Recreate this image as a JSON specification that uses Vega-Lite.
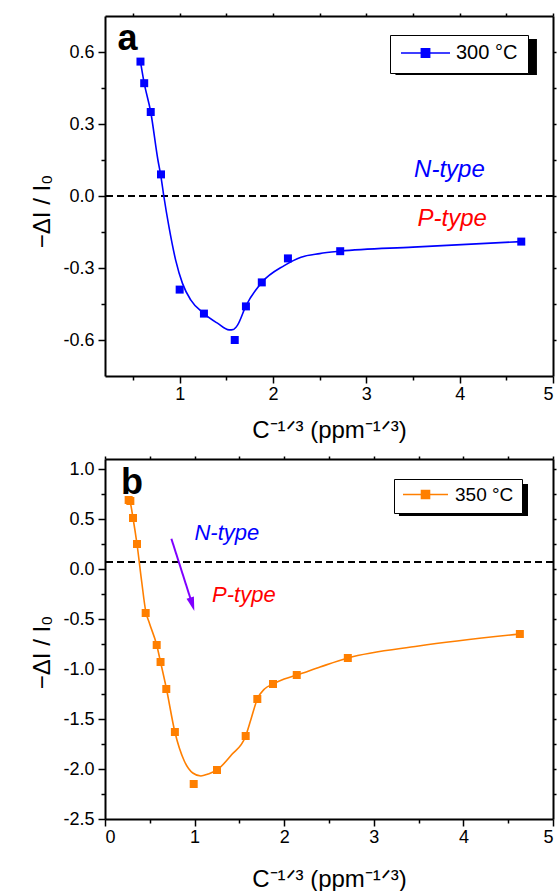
{
  "$schema": "https://vega.github.io/schema/vega-lite/v6.json",
  "padding": {"left": 30, "top": 12, "right": 4, "bottom": 0},
  "datasets": {
    "ptsA": [
      {"x": 0.58, "y": 0.56, "series": "300 °C"},
      {"x": 0.62, "y": 0.47, "series": "300 °C"},
      {"x": 0.69, "y": 0.35, "series": "300 °C"},
      {"x": 0.80, "y": 0.09, "series": "300 °C"},
      {"x": 1.00, "y": -0.39, "series": "300 °C"},
      {"x": 1.26, "y": -0.49, "series": "300 °C"},
      {"x": 1.59, "y": -0.60, "series": "300 °C"},
      {"x": 1.71, "y": -0.46, "series": "300 °C"},
      {"x": 1.88, "y": -0.36, "series": "300 °C"},
      {"x": 2.16, "y": -0.26, "series": "300 °C"},
      {"x": 2.72, "y": -0.23, "series": "300 °C"},
      {"x": 4.66, "y": -0.19, "series": "300 °C"}
    ],
    "fitA": [
      {"x": 0.58, "y": 0.56, "series": "300 °C"},
      {"x": 0.62, "y": 0.47, "series": "300 °C"},
      {"x": 0.69, "y": 0.35, "series": "300 °C"},
      {"x": 0.767, "y": 0.15, "series": "300 °C"},
      {"x": 0.80, "y": 0.08, "series": "300 °C"},
      {"x": 0.83, "y": 0.0, "series": "300 °C"},
      {"x": 0.885, "y": -0.128, "series": "300 °C"},
      {"x": 0.957, "y": -0.267, "series": "300 °C"},
      {"x": 1.03, "y": -0.364, "series": "300 °C"},
      {"x": 1.118, "y": -0.433, "series": "300 °C"},
      {"x": 1.26, "y": -0.49, "series": "300 °C"},
      {"x": 1.405, "y": -0.53, "series": "300 °C"},
      {"x": 1.53, "y": -0.558, "series": "300 °C"},
      {"x": 1.575, "y": -0.556, "series": "300 °C"},
      {"x": 1.62, "y": -0.538, "series": "300 °C"},
      {"x": 1.71, "y": -0.458, "series": "300 °C"},
      {"x": 1.88, "y": -0.36, "series": "300 °C"},
      {"x": 2.12, "y": -0.29, "series": "300 °C"},
      {"x": 2.30, "y": -0.255, "series": "300 °C"},
      {"x": 2.5, "y": -0.24, "series": "300 °C"},
      {"x": 2.72, "y": -0.23, "series": "300 °C"},
      {"x": 3.5, "y": -0.213, "series": "300 °C"},
      {"x": 4.66, "y": -0.19, "series": "300 °C"}
    ],
    "ptsB": [
      {"x": 0.264, "y": 0.69, "series": "350 °C"},
      {"x": 0.283, "y": 0.68, "series": "350 °C"},
      {"x": 0.3125, "y": 0.51, "series": "350 °C"},
      {"x": 0.357, "y": 0.25, "series": "350 °C"},
      {"x": 0.454, "y": -0.44, "series": "350 °C"},
      {"x": 0.577, "y": -0.76, "series": "350 °C"},
      {"x": 0.62, "y": -0.93, "series": "350 °C"},
      {"x": 0.684, "y": -1.20, "series": "350 °C"},
      {"x": 0.78, "y": -1.63, "series": "350 °C"},
      {"x": 0.99, "y": -2.15, "series": "350 °C"},
      {"x": 1.25, "y": -2.01, "series": "350 °C"},
      {"x": 1.57, "y": -1.67, "series": "350 °C"},
      {"x": 1.70, "y": -1.30, "series": "350 °C"},
      {"x": 1.875, "y": -1.15, "series": "350 °C"},
      {"x": 2.14, "y": -1.06, "series": "350 °C"},
      {"x": 2.71, "y": -0.89, "series": "350 °C"},
      {"x": 4.63, "y": -0.65, "series": "350 °C"}
    ],
    "fitB": [
      {"x": 0.264, "y": 0.69, "series": "350 °C"},
      {"x": 0.283, "y": 0.66, "series": "350 °C"},
      {"x": 0.3125, "y": 0.51, "series": "350 °C"},
      {"x": 0.357, "y": 0.25, "series": "350 °C"},
      {"x": 0.41, "y": -0.13, "series": "350 °C"},
      {"x": 0.454, "y": -0.42, "series": "350 °C"},
      {"x": 0.495, "y": -0.54, "series": "350 °C"},
      {"x": 0.577, "y": -0.76, "series": "350 °C"},
      {"x": 0.62, "y": -0.93, "series": "350 °C"},
      {"x": 0.684, "y": -1.19, "series": "350 °C"},
      {"x": 0.78, "y": -1.63, "series": "350 °C"},
      {"x": 0.885, "y": -1.92, "series": "350 °C"},
      {"x": 0.98, "y": -2.04, "series": "350 °C"},
      {"x": 1.07, "y": -2.07, "series": "350 °C"},
      {"x": 1.15, "y": -2.05, "series": "350 °C"},
      {"x": 1.25, "y": -2.01, "series": "350 °C"},
      {"x": 1.41, "y": -1.86, "series": "350 °C"},
      {"x": 1.57, "y": -1.67, "series": "350 °C"},
      {"x": 1.63, "y": -1.50, "series": "350 °C"},
      {"x": 1.70, "y": -1.30, "series": "350 °C"},
      {"x": 1.78, "y": -1.20, "series": "350 °C"},
      {"x": 1.875, "y": -1.15, "series": "350 °C"},
      {"x": 2.0, "y": -1.10, "series": "350 °C"},
      {"x": 2.14, "y": -1.06, "series": "350 °C"},
      {"x": 2.4, "y": -0.98, "series": "350 °C"},
      {"x": 2.71, "y": -0.89, "series": "350 °C"},
      {"x": 3.5, "y": -0.77, "series": "350 °C"},
      {"x": 4.63, "y": -0.65, "series": "350 °C"}
    ]
  },
  "config": {
    "font": "Liberation Sans",
    "view": {"stroke": null},
    "axis": {
      "domainColor": "black", "domainWidth": 2, "tickColor": "black", "tickWidth": 1.5,
      "labelFont": "Liberation Sans", "labelFontSize": 18, "labelColor": "black",
      "titleFont": "Liberation Sans", "titleFontSize": 24, "titleFontWeight": "normal", "titleColor": "black",
      "grid": false
    }
  },
  "vconcat": [
    {
      "width": 448, "height": 360,
      "resolve": {"axis": {"x": "independent", "y": "independent"}},
      "layer": [
        {
          "data": {"values": [{}]},
          "mark": {"type": "rect", "color": "black"},
          "encoding": {
            "x": {"datum": 3.312, "type": "quantitative", "scale": {"domain": [0.2, 5], "nice": false, "zero": false}, "axis": null},
            "x2": {"datum": 4.828},
            "y": {"datum": 0.654, "type": "quantitative", "scale": {"domain": [-0.75, 0.75], "nice": false, "zero": false}, "axis": null},
            "y2": {"datum": 0.504}
          }
        },
        {
          "data": {"values": [{}]},
          "mark": {"type": "rule", "color": "black", "strokeDash": [7, 4], "strokeWidth": 2},
          "encoding": {
            "y": {"datum": 0, "type": "quantitative", "scale": {"domain": [-0.75, 0.75], "nice": false, "zero": false}, "axis": null}
          }
        },
        {
          "data": {"name": "fitA"},
          "mark": {"type": "line", "interpolate": "monotone", "strokeWidth": 1.6},
          "encoding": {
            "x": {"field": "x", "type": "quantitative", "scale": {"domain": [0.2, 5], "nice": false, "zero": false},
              "axis": {"orient": "bottom", "title": "C⁻¹ᐟ³ (ppm⁻¹ᐟ³)", "values": [0.5, 1, 1.5, 2, 2.5, 3, 3.5, 4, 4.5, 5],
                "labelExpr": "datum.value % 1 == 0 ? format(datum.value, 'd') : ''",
                "tickSize": {"condition": {"test": "datum.value % 1 == 0", "value": 7}, "value": 4},
                "labelPadding": 2, "titlePadding": 15}},
            "y": {"field": "y", "type": "quantitative", "scale": {"domain": [-0.75, 0.75], "nice": false, "zero": false},
              "axis": {"orient": "left", "title": "−ΔI / I₀", "values": [-0.6, -0.45, -0.3, -0.15, 0, 0.15, 0.3, 0.45, 0.6],
                "labelExpr": "abs(datum.value/0.3 - round(datum.value/0.3)) < 0.001 ? replace(format(datum.value, '.1f'), '−', '-') : ''",
                "tickSize": {"condition": {"test": "abs(datum.value/0.3 - round(datum.value/0.3)) < 0.001", "value": 7}, "value": 4},
                "labelPadding": 4, "titlePadding": 8, "titleY": 195}},
            "color": {"field": "series", "type": "nominal", "scale": {"domain": ["300 °C"], "range": ["#0000ff"]},
              "legend": {"title": null, "orient": "none", "legendX": 285, "legendY": 19, "strokeColor": "black", "fillColor": "white",
                "padding": 10, "clipHeight": 16, "symbolSize": 2401, "symbolType": "M-1,0H-0.17M0.17,0H1M-0.17,-0.17H0.17V0.17H-0.17Z",
                "symbolFillColor": "#0000ff", "symbolStrokeColor": "#0000ff", "symbolStrokeWidth": 1.5, "symbolOpacity": 1,
                "labelFontSize": 20, "labelOffset": 5, "labelColor": "black", "labelFont": "Liberation Sans"}}
          }
        },
        {
          "data": {"name": "ptsA"},
          "mark": {"type": "point", "shape": "square", "filled": true, "size": 64, "opacity": 1},
          "encoding": {
            "x": {"field": "x", "type": "quantitative", "scale": {"domain": [0.2, 5], "nice": false, "zero": false},
              "axis": {"orient": "top", "title": null, "labels": false, "tickSize": 3, "values": [0.5, 1, 1.5, 2, 2.5, 3, 3.5, 4, 4.5, 5]}},
            "y": {"field": "y", "type": "quantitative", "scale": {"domain": [-0.75, 0.75], "nice": false, "zero": false},
              "axis": {"orient": "right", "title": null, "labels": false, "tickSize": 3, "values": [-0.6, -0.45, -0.3, -0.15, 0, 0.15, 0.3, 0.45, 0.6]}},
            "color": {"field": "series", "type": "nominal", "scale": {"domain": ["300 °C"], "range": ["#0000ff"]}}
          }
        },
        {
          "data": {"values": [{}]},
          "mark": {"type": "text", "text": "a", "fontSize": 36, "fontWeight": "bold", "color": "black", "baseline": "middle", "align": "center"},
          "encoding": {"x": {"datum": 0.44, "type": "quantitative", "axis": null}, "y": {"datum": 0.655, "type": "quantitative", "axis": null}}
        },
        {
          "data": {"values": [{}]},
          "mark": {"type": "text", "text": "N-type", "fontSize": 24, "fontStyle": "italic", "color": "#0000ff", "baseline": "middle", "align": "center"},
          "encoding": {"x": {"datum": 3.89, "type": "quantitative", "axis": null}, "y": {"datum": 0.11, "type": "quantitative", "axis": null}}
        },
        {
          "data": {"values": [{}]},
          "mark": {"type": "text", "text": "P-type", "fontSize": 24, "fontStyle": "italic", "color": "#ff0000", "baseline": "middle", "align": "center"},
          "encoding": {"x": {"datum": 3.92, "type": "quantitative", "axis": null}, "y": {"datum": -0.095, "type": "quantitative", "axis": null}}
        }
      ]
    },
    {
      "width": 448, "height": 360,
      "resolve": {"axis": {"x": "independent", "y": "independent"}},
      "layer": [
        {
          "data": {"values": [{}]},
          "mark": {"type": "rect", "color": "black"},
          "encoding": {
            "x": {"datum": 3.281, "type": "quantitative", "scale": {"domain": [0, 5], "nice": false, "zero": false}, "axis": null},
            "x2": {"datum": 4.721},
            "y": {"datum": 0.85, "type": "quantitative", "scale": {"domain": [-2.5, 1.1], "nice": false, "zero": false}, "axis": null},
            "y2": {"datum": 0.53}
          }
        },
        {
          "data": {"values": [{}]},
          "mark": {"type": "rule", "color": "black", "strokeDash": [7, 4], "strokeWidth": 2},
          "encoding": {
            "y": {"datum": 0.07, "type": "quantitative", "scale": {"domain": [-2.5, 1.1], "nice": false, "zero": false}, "axis": null}
          }
        },
        {
          "data": {"values": [{}]},
          "mark": {"type": "rule", "color": "#7f00ff", "strokeWidth": 2},
          "encoding": {
            "x": {"datum": 0.741, "type": "quantitative", "axis": null}, "x2": {"datum": 0.974},
            "y": {"datum": 0.303, "type": "quantitative", "axis": null}, "y2": {"datum": -0.353}
          }
        },
        {
          "data": {"values": [{}]},
          "mark": {"type": "point", "shape": "M0,1L-0.55,-1L0.55,-1Z", "size": 196, "angle": 343, "filled": true, "color": "#7f00ff", "opacity": 1},
          "encoding": {
            "x": {"datum": 0.974, "type": "quantitative", "axis": null},
            "y": {"datum": -0.353, "type": "quantitative", "axis": null}
          }
        },
        {
          "data": {"name": "fitB"},
          "mark": {"type": "line", "interpolate": "monotone", "strokeWidth": 1.6},
          "encoding": {
            "x": {"field": "x", "type": "quantitative", "scale": {"domain": [0, 5], "nice": false, "zero": false},
              "axis": {"orient": "bottom", "title": "C⁻¹ᐟ³ (ppm⁻¹ᐟ³)", "values": [0, 0.5, 1, 1.5, 2, 2.5, 3, 3.5, 4, 4.5, 5],
                "labelExpr": "datum.value % 1 == 0 ? format(datum.value, 'd') : ''",
                "tickSize": {"condition": {"test": "datum.value % 1 == 0", "value": 7}, "value": 4},
                "labelPadding": 2, "titlePadding": 21}},
            "y": {"field": "y", "type": "quantitative", "scale": {"domain": [-2.5, 1.1], "nice": false, "zero": false},
              "axis": {"orient": "left", "title": "−ΔI / I₀", "values": [-2.5, -2.25, -2, -1.75, -1.5, -1.25, -1, -0.75, -0.5, -0.25, 0, 0.25, 0.5, 0.75, 1],
                "labelExpr": "abs(datum.value*2 - round(datum.value*2)) < 0.001 ? replace(format(datum.value, '.1f'), '−', '-') : ''",
                "tickSize": {"condition": {"test": "abs(datum.value*2 - round(datum.value*2)) < 0.001", "value": 7}, "value": 4},
                "labelPadding": 4, "titlePadding": 8, "titleY": 193}},
            "color": {"field": "series", "type": "nominal", "scale": {"domain": ["350 °C"], "range": ["#ff7f00"]},
              "legend": {"title": null, "orient": "none", "legendX": 289, "legendY": 20, "strokeColor": "black", "fillColor": "white",
                "padding": 8, "clipHeight": 15, "symbolSize": 2025, "symbolType": "M-1,0H-0.18M0.18,0H1M-0.18,-0.18H0.18V0.18H-0.18Z",
                "symbolFillColor": "#ff7f00", "symbolStrokeColor": "#ff7f00", "symbolStrokeWidth": 1.5, "symbolOpacity": 1,
                "labelFontSize": 19, "labelOffset": 6, "labelColor": "black", "labelFont": "Liberation Sans"}}
          }
        },
        {
          "data": {"name": "ptsB"},
          "mark": {"type": "point", "shape": "square", "filled": true, "size": 64, "opacity": 1},
          "encoding": {
            "x": {"field": "x", "type": "quantitative", "scale": {"domain": [0, 5], "nice": false, "zero": false},
              "axis": {"orient": "top", "title": null, "labels": false, "tickSize": 3, "values": [0, 0.5, 1, 1.5, 2, 2.5, 3, 3.5, 4, 4.5, 5]}},
            "y": {"field": "y", "type": "quantitative", "scale": {"domain": [-2.5, 1.1], "nice": false, "zero": false},
              "axis": {"orient": "right", "title": null, "labels": false, "tickSize": 3, "values": [-2.25, -2, -1.75, -1.5, -1.25, -1, -0.75, -0.5, -0.25, 0, 0.25, 0.5, 0.75, 1]}},
            "color": {"field": "series", "type": "nominal", "scale": {"domain": ["350 °C"], "range": ["#ff7f00"]}}
          }
        },
        {
          "data": {"values": [{}]},
          "mark": {"type": "text", "text": "b", "fontSize": 36, "fontWeight": "bold", "color": "black", "baseline": "middle", "align": "center"},
          "encoding": {"x": {"datum": 0.30, "type": "quantitative", "axis": null}, "y": {"datum": 0.86, "type": "quantitative", "axis": null}}
        },
        {
          "data": {"values": [{}]},
          "mark": {"type": "text", "text": "N-type", "fontSize": 22, "fontStyle": "italic", "color": "#0000ff", "baseline": "middle", "align": "center"},
          "encoding": {"x": {"datum": 1.36, "type": "quantitative", "axis": null}, "y": {"datum": 0.36, "type": "quantitative", "axis": null}}
        },
        {
          "data": {"values": [{}]},
          "mark": {"type": "text", "text": "P-type", "fontSize": 22, "fontStyle": "italic", "color": "#ff0000", "baseline": "middle", "align": "center"},
          "encoding": {"x": {"datum": 1.55, "type": "quantitative", "axis": null}, "y": {"datum": -0.26, "type": "quantitative", "axis": null}}
        }
      ]
    }
  ],
  "spacing": 13,
  "resolve": {"scale": {"color": "independent"}, "legend": {"color": "independent"}}
}
